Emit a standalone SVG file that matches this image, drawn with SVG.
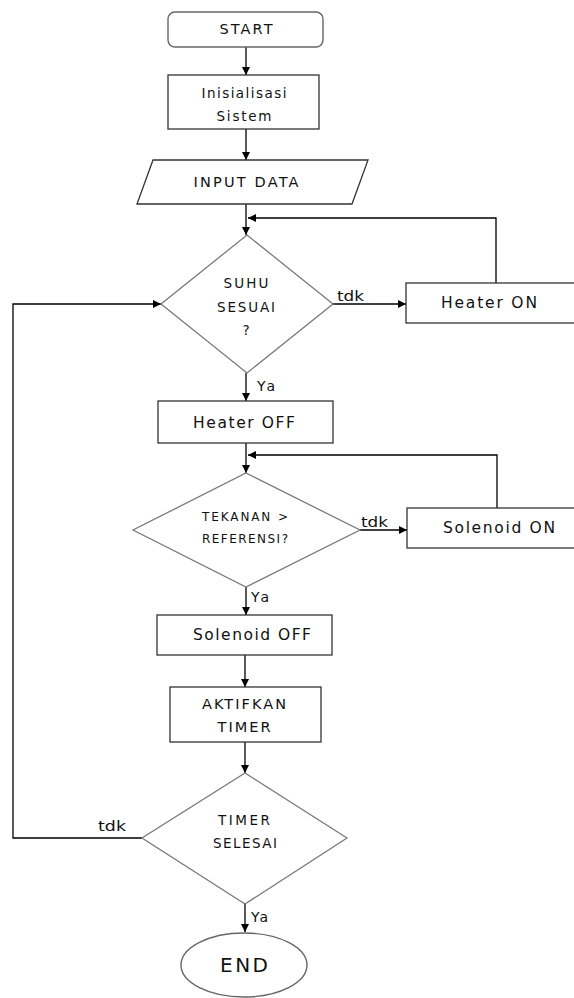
<svg xmlns="http://www.w3.org/2000/svg" width="574" height="998" viewBox="0 0 574 998">
<style>
.box{fill:#fff;stroke:#333;stroke-width:1.3}
.dia{fill:#fff;stroke:#7a7a7a;stroke-width:1.3}
.term{fill:#fff;stroke:#666;stroke-width:1.4}
.ln{fill:none;stroke:#000;stroke-width:1.3}
.t{font-family:"DejaVu Sans","Liberation Sans",sans-serif;font-size:15.5px;fill:#111;text-anchor:middle}
.s{font-size:13.5px}
.c{font-size:14.5px}
.d{font-size:13.5px}
.lb{font-family:"DejaVu Sans","Liberation Sans",sans-serif;font-size:14px;fill:#111}
</style>
<defs>
<marker id="ah" viewBox="0 0 10 10" refX="10" refY="5" markerWidth="8" markerHeight="8" markerUnits="userSpaceOnUse" orient="auto">
<path d="M0,0 L10,5 L0,10 z" fill="#000"/>
</marker>
</defs>
<rect width="574" height="998" fill="#fff"/>
<g id="connectors">
<path class="ln" d="M246,47 V75" marker-end="url(#ah)"/>
<path class="ln" d="M246,129 V160" marker-end="url(#ah)"/>
<path class="ln" d="M246,204 V235" marker-end="url(#ah)"/>
<path class="ln" d="M496,283 V218 H248" marker-end="url(#ah)"/>
<path class="ln" d="M333,304 H406" marker-end="url(#ah)"/>
<path class="ln" d="M246,373 V401" marker-end="url(#ah)"/>
<path class="ln" d="M246,443 V473" marker-end="url(#ah)"/>
<path class="ln" d="M497,508 V455 H248" marker-end="url(#ah)"/>
<path class="ln" d="M360,530 H407" marker-end="url(#ah)"/>
<path class="ln" d="M246,587 V615" marker-end="url(#ah)"/>
<path class="ln" d="M245,655 V687" marker-end="url(#ah)"/>
<path class="ln" d="M245,742 V773" marker-end="url(#ah)"/>
<path class="ln" d="M142,838 H13 V304 H161" marker-end="url(#ah)"/>
<path class="ln" d="M245,904 V932" marker-end="url(#ah)"/>
<text class="lb" x="337" y="301" textLength="27" lengthAdjust="spacingAndGlyphs">tdk</text>
<text class="lb" x="257" y="391" textLength="18">Ya</text>
<text class="lb" x="361" y="527" textLength="27" lengthAdjust="spacingAndGlyphs">tdk</text>
<text class="lb" x="251" y="602" textLength="18">Ya</text>
<text class="lb" x="98" y="831" textLength="28" lengthAdjust="spacingAndGlyphs">tdk</text>
<text class="lb" x="251" y="922" textLength="17">Ya</text>
</g>
<g id="start">
<rect class="term" x="168" y="12" width="155" height="35" rx="7"/>
<text class="t c" x="246" y="34" textLength="53">START</text>
</g>
<g id="init">
<rect class="box" x="168" y="75" width="151" height="54"/>
<text class="t s" x="244" y="98" textLength="85">Inisialisasi</text>
<text class="t s" x="244" y="121" textLength="55">Sistem</text>
</g>
<g id="input">
<polygon class="box" points="153,160 368,160 352,204 137,204"/>
<text class="t c" x="246" y="187" textLength="105">INPUT DATA</text>
</g>
<g id="suhu">
<polygon class="dia" points="247,235 333,304 247,373 161,304"/>
<text class="t d" x="246" y="288" textLength="45">SUHU</text>
<text class="t d" x="246" y="312" textLength="58">SESUAI</text>
<text class="t d" x="246" y="335">?</text>
</g>
<g id="heater-on">
<rect class="box" x="406" y="283" width="200" height="40"/>
<text class="t" x="489" y="308" textLength="96">Heater ON</text>
</g>
<g id="heater-off">
<rect class="box" x="158" y="401" width="175" height="42"/>
<text class="t" x="244" y="428" textLength="102">Heater OFF</text>
</g>
<g id="tekanan">
<polygon class="dia" points="246,473 360,530 246,587 133,530"/>
<text class="t" style="font-size:12px" x="245" y="521" textLength="86">TEKANAN &gt;</text>
<text class="t" style="font-size:12px" x="245" y="543" textLength="86">REFERENSI?</text>
</g>
<g id="solenoid-on">
<rect class="box" x="407" y="508" width="200" height="40"/>
<text class="t" x="499" y="533" textLength="112">Solenoid ON</text>
</g>
<g id="solenoid-off">
<rect class="box" x="157" y="615" width="175" height="40"/>
<text class="t" x="252" y="640" textLength="118">Solenoid OFF</text>
</g>
<g id="aktifkan">
<rect class="box" x="170" y="687" width="151" height="55"/>
<text class="t c" x="244" y="709" textLength="84">AKTIFKAN</text>
<text class="t c" x="244" y="732" textLength="53">TIMER</text>
</g>
<g id="timer">
<polygon class="dia" points="245,773 347,838 245,904 142,838"/>
<text class="t d" x="244" y="825" textLength="52">TIMER</text>
<text class="t d" x="245" y="848" textLength="64">SELESAI</text>
</g>
<g id="end">
<ellipse class="term" cx="244" cy="965" rx="63" ry="32"/>
<text class="t" style="font-size:20px" x="244" y="972" textLength="48">END</text>
</g>
</svg>
